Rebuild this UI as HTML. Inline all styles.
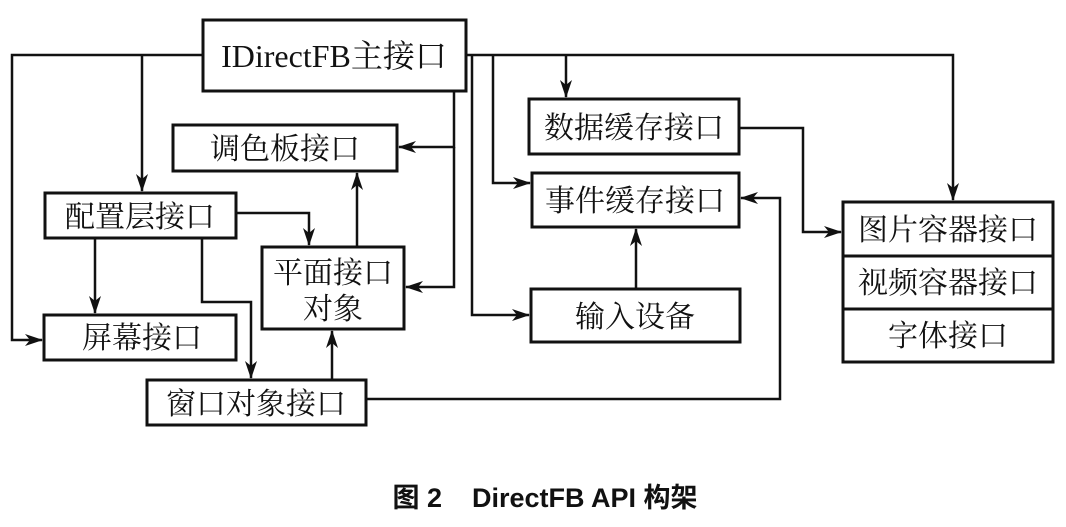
<!DOCTYPE html>
<html><head><meta charset="utf-8"><style>
body{margin:0;background:#fff;}
svg text{font-family:"Liberation Serif","Noto Serif CJK SC","Noto Sans CJK SC",serif;fill:#111;}
</style></head><body>
<svg width="1066" height="522" viewBox="0 0 1066 522" xmlns="http://www.w3.org/2000/svg">
<defs><marker id="a" markerWidth="18" markerHeight="12" refX="17" refY="6" orient="auto" markerUnits="userSpaceOnUse"><path d="M0,0 L18,6 L0,12 L5,6 Z" fill="#111"/></marker></defs>
<g fill="none" stroke="#111" stroke-width="3">
<rect x="203" y="20" width="263" height="71"/>
<rect x="173" y="125" width="224" height="46"/>
<rect x="45" y="193" width="191" height="45"/>
<rect x="44" y="315" width="192" height="45"/>
<rect x="262" y="247" width="142" height="82"/>
<rect x="147" y="380" width="219" height="45"/>
<rect x="529" y="99" width="210" height="55"/>
<rect x="532" y="173" width="207" height="54"/>
<rect x="531" y="289" width="209" height="53"/>
<rect x="843" y="202" width="210" height="160"/>
<line x1="843" y1="256" x2="1053" y2="256"/>
<line x1="843" y1="309" x2="1053" y2="309"/>
</g>
<g fill="none" stroke="#111" stroke-width="2.5">
<polyline points="203,55 12,55 12,340 42,340" marker-end="url(#a)"/>
<polyline points="142,55 142,191" marker-end="url(#a)"/>
<polyline points="95,238 95,313" marker-end="url(#a)"/>
<polyline points="236,213 309,213 309,245" marker-end="url(#a)"/>
<polyline points="202,238 202,302 251,302 251,378" marker-end="url(#a)"/>
<polyline points="357,247 357,173" marker-end="url(#a)"/>
<polyline points="332,380 332,331" marker-end="url(#a)"/>
<polyline points="454,91 454,147 399,147" marker-end="url(#a)"/>
<polyline points="454,147 454,287 406,287" marker-end="url(#a)"/>
<polyline points="466,55 953,55 953,200" marker-end="url(#a)"/>
<polyline points="566,55 566,97" marker-end="url(#a)"/>
<polyline points="493,55 493,183 530,183" marker-end="url(#a)"/>
<polyline points="472,55 472,315 529,315" marker-end="url(#a)"/>
<polyline points="636,289 636,229" marker-end="url(#a)"/>
<polyline points="739,128 803,128 803,232 841,232" marker-end="url(#a)"/>
<polyline points="366,399 780,399 780,198 741,198" marker-end="url(#a)"/>
</g>
<g font-size="30" text-anchor="middle">
<text x="334" y="67" font-size="32">IDirectFB主接口</text>
<text x="285" y="159">调色板接口</text>
<text x="140" y="227">配置层接口</text>
<text x="142" y="348">屏幕接口</text>
<text x="333" y="283">平面接口</text>
<text x="333" y="319">对象</text>
<text x="256" y="414">窗口对象接口</text>
<text x="634" y="138">数据缓存接口</text>
<text x="635" y="211">事件缓存接口</text>
<text x="635" y="327">输入设备</text>
<text x="948" y="240">图片容器接口</text>
<text x="948" y="293">视频容器接口</text>
<text x="948" y="346">字体接口</text>
</g>
<text x="545" y="507" text-anchor="middle" font-size="27" font-weight="bold" style="font-family:'Liberation Sans','Noto Sans CJK SC',sans-serif" xml:space="preserve">图 2    DirectFB API 构架</text>
</svg>
</body></html>
